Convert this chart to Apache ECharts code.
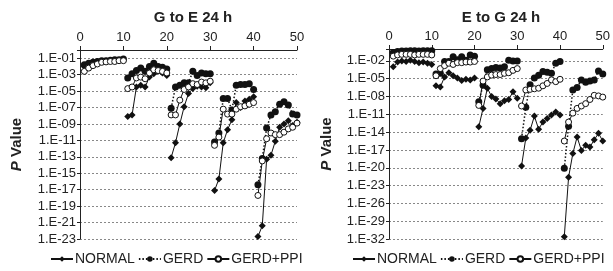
<!DOCTYPE html>
<html>
<head>
<meta charset="utf-8">
<script src="https://cdn.jsdelivr.net/npm/echarts@6/dist/echarts.min.js"></script>
<style>
html, body { margin: 0; padding: 0; background: #fff; }
#chart { width: 613px; height: 271px; }
</style>
</head>
<body>
<div id="chart"></div>
<script>
// position along the sequence, five blocks of ten
const xPos = [1, 2, 3, 4, 5, 6, 7, 8, 9, 10,
    11, 12, 13, 14, 15, 16, 17, 18, 19, 20,
    21, 22, 23, 24, 25, 26, 27, 28, 29, 30,
    31, 32, 33, 34, 35, 36, 37, 38, 39, 40,
    41, 42, 43, 44, 45, 46, 47, 48, 49, 50];

// log10 of P value
// G to E 24 h
const gteNormal = [-2.0, -1.8, -1.6, -1.5, -1.4, -1.35, -1.3, -1.3, -1.25, -1.2,
    -8.1, -7.9, -4.5, -4.3, -4.5, -3.3, -2.9, -2.6, -2.8, -3.1,
    -13.1, -11.3, -9.0, -6.9, -5.3, -4.7, -4.4, -4.5, -4.6, -4.0,
    -17.1, -15.7, -11.3, -9.7, -8.5, -6.4, -7.0, -6.2, -6.0, -5.7,
    -22.7, -21.4, -13.3, -12.8, -11.1, -9.4, -9.0, -8.6, -9.2, -8.8];
const gteGerd = [-1.8, -1.6, -1.5, -1.4, -1.3, -1.3, -1.25, -1.2, -1.2, -1.1,
    -3.4, -2.9, -2.5, -2.2, -2.6, -2.0, -1.6, -2.0, -2.1, -2.3,
    -7.1, -4.5, -4.3, -4.0, -4.0, -2.6, -3.1, -2.8, -2.9, -2.9,
    -11.2, -10.1, -5.9, -5.9, -7.3, -4.3, -4.2, -4.2, -4.1, -4.8,
    -16.4, -13.2, -9.5, -7.9, -7.5, -6.6, -6.3, -6.7, -7.8, -7.9];
const gtePpi = [-2.6, -2.2, -1.9, -1.7, -1.5, -1.45, -1.4, -1.4, -1.3, -1.3,
    -4.7, -4.5, -3.4, -3.3, -3.5, -2.8, -2.4, -2.5, -2.6, -2.8,
    -7.9, -7.9, -6.1, -4.8, -4.5, -4.1, -4.2, -3.9, -4.0, -3.8,
    -11.6, -10.6, -7.2, -7.8, -7.8, -7.2, -6.9, -6.8, -6.6, -6.4,
    -17.7, -13.5, -10.8, -10.1, -10.3, -10.3, -10.0, -9.6, -9.4, -8.9];

// E to G 24 h
const etgNormal = [-3.0, -2.2, -2.0, -2.1, -1.9, -2.1, -2.3, -2.2, -2.4, -2.6,
    -6.2, -6.4, -4.7, -4.0, -4.5, -4.9, -5.3, -5.1, -5.2, -4.9,
    -13.1, -10.0, -6.6, -8.0, -8.4, -9.2, -8.7, -8.5, -7.2, -8.3,
    -19.7, -15.0, -13.7, -11.3, -13.5, -12.3, -11.7, -11.1, -10.6, -11.1,
    -31.6, -21.6, -17.6, -14.8, -17.1, -16.2, -16.5, -15.3, -14.2, -15.5];
const etgGerd = [-0.6, -0.4, -0.35, -0.35, -0.3, -0.3, -0.35, -0.3, -0.3, -0.3,
    -4.2, -4.1, -2.1, -2.1, -1.3, -1.8, -1.3, -1.9, -1.0, -1.2,
    -8.9, -6.1, -3.5, -3.3, -3.1, -3.2, -3.0, -1.9, -2.0, -2.0,
    -15.1, -9.8, -6.0, -4.9, -4.4, -3.8, -3.9, -4.1, -2.4, -2.1,
    -20.1, -13.0, -6.9, -6.5, -5.2, -5.6, -5.4, -5.2, -3.7, -4.2];
const etgPpi = [-1.2, -1.0, -0.9, -0.9, -0.9, -1.0, -0.9, -0.9, -0.9, -1.0,
    -4.5, -3.3, -2.8, -2.4, -2.6, -2.3, -2.3, -2.2, -2.2, -2.1,
    -9.5, -5.4, -4.7, -4.4, -4.3, -4.3, -4.1, -4.0, -3.6, -3.3,
    -9.6, -6.9, -6.8, -6.7, -6.6, -6.2, -5.8, -5.2, -5.5, -5.1,
    -15.5, -12.3, -10.8, -10.0, -9.6, -9.2, -8.5, -7.8, -7.9, -8.1];

const titles = ['G to E 24 h', 'E to G 24 h'];
const seriesNames = ['NORMAL', 'GERD', 'GERD+PPI'];

const FONT = 'Liberation Sans, Arial, sans-serif';

// one gap between blocks so the lines break
function toPairs(vals) {
    const out = [];
    vals.forEach((v, i) => {
        if (i > 0 && i % 10 === 0) out.push([xPos[i] - 0.5, '-']);
        out.push([xPos[i], v]);
    });
    return out;
}

function fmtP(v) {
    if (v === 0) return '';
    return '1.E-' + String(-v).padStart(2, '0');
}

const styles = [
    { symbol: 'diamond', symbolSize: 7, itemStyle: { color: '#111' }, lineStyle: { color: '#111', width: 1, type: 'solid' } },
    { symbol: 'circle', symbolSize: 7, itemStyle: { color: '#111' }, lineStyle: { color: '#111', width: 1.5, type: [1.5, 2] } },
    { symbol: 'circle', symbolSize: 6, itemStyle: { color: '#fff', borderColor: '#111', borderWidth: 1 }, lineStyle: { color: '#111', width: 1, type: 'solid' } }
];

const panels = [
    { data: [gteNormal, gteGerd, gtePpi], min: -23, interval: 2 },
    { data: [etgNormal, etgGerd, etgPpi], min: -32, interval: 3 }
];

const grids = [
    { left: 80, right: 316, top: 50, bottom: 32 },
    { left: 389, right: 5, top: 49, bottom: 32 }
];

const xAxes = [], yAxes = [], series = [];
panels.forEach((p, k) => {
    xAxes.push({
        gridIndex: k, type: 'value', position: 'top', min: 0, max: 50, interval: 10,
        axisLine: { lineStyle: { color: '#222', width: 1 } },
        axisTick: { inside: false, length: 4, lineStyle: { color: '#222' } },
        axisLabel: { color: '#222', fontFamily: FONT, fontSize: 13, margin: 6 },
        splitLine: { show: false }
    });
    yAxes.push({
        gridIndex: k, type: 'value', min: p.min, max: 0, interval: p.interval,
        name: '{i|P} Value', nameLocation: 'middle', nameRotate: 90, nameGap: k === 0 ? 56 : 55,
        nameTextStyle: {
            fontFamily: FONT, fontSize: 15, fontWeight: 'bold', color: '#222',
            rich: { i: { fontFamily: FONT, fontSize: 15, fontWeight: 'bold', fontStyle: 'italic', color: '#222' } }
        },
        axisLine: { show: true, onZero: false, lineStyle: { color: '#222', width: 1 } },
        axisTick: { show: true, length: 3, lineStyle: { color: '#222' } },
        axisLabel: { color: '#222', fontFamily: FONT, fontSize: 13, margin: 4, formatter: fmtP },
        splitLine: { show: true, lineStyle: { color: '#888', type: [2, 2], width: 1 } }
    });
    p.data.forEach((vals, s) => {
        series.push(Object.assign({
            name: seriesNames[s], type: 'line', xAxisIndex: k, yAxisIndex: k,
            data: toPairs(vals), connectNulls: false, animation: false, z: 2 + s
        }, styles[s]));
    });
});

const legendBase = {
    data: seriesNames, top: 252, padding: 0, width: 300, itemWidth: 22, itemHeight: 7, itemGap: 3,
    textStyle: { fontFamily: FONT, fontSize: 14, color: '#222', padding: [0, 0, 0, -3] }
};

const chart = echarts.init(document.getElementById('chart'), null, { renderer: 'canvas' });
chart.setOption({
    animation: false,
    backgroundColor: '#fff',
    title: [
        { text: titles[0], left: 188, top: 5, textAlign: 'center', textStyle: { fontFamily: FONT, fontSize: 15, fontWeight: 'bold', color: '#222' } },
        { text: titles[1], left: 496, top: 5, textAlign: 'center', textStyle: { fontFamily: FONT, fontSize: 15, fontWeight: 'bold', color: '#222' } }
    ],
    legend: [
        Object.assign({ left: 50 }, legendBase),
        Object.assign({ left: 352 }, legendBase)
    ],
    grid: grids,
    xAxis: xAxes,
    yAxis: yAxes,
    series: series
});
</script>
</body>
</html>
